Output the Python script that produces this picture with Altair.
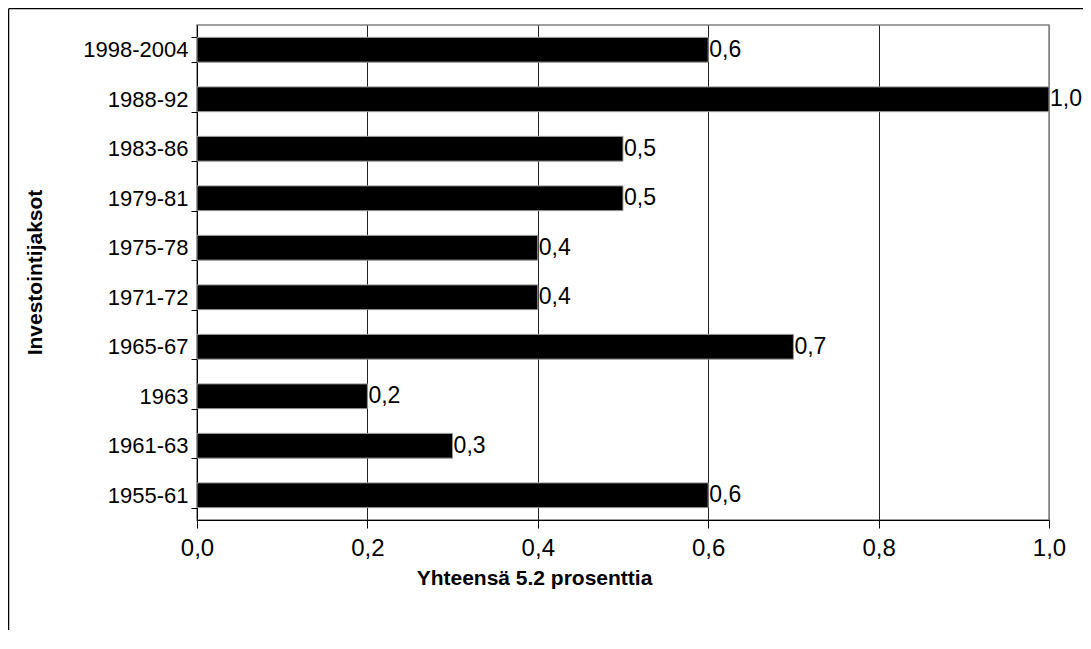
import altair as alt
import pandas as pd

periods = ["1998-2004", "1988-92", "1983-86", "1979-81", "1975-78",
           "1971-72", "1965-67", "1963", "1961-63", "1955-61"]
values = [0.6, 1.0, 0.5, 0.5, 0.4, 0.4, 0.7, 0.2, 0.3, 0.6]
x_ticks = [0.0, 0.2, 0.4, 0.6, 0.8, 1.0]

df = pd.DataFrame({"period": periods, "value": values})
frame_df = pd.DataFrame({"k": [0]})

FONT = "Liberation Sans"

y_enc = alt.Y("period:N", sort=periods,
              scale=alt.Scale(paddingInner=0.5, paddingOuter=0.25),
              axis=alt.Axis(title="Investointijaksot", titleFontSize=21,
                            titleFontWeight="bold", titleFont=FONT, titleColor="black",
                            titleX=-162, titleY=247, titleAngle=270,
                            titleAlign="center", titleBaseline="middle",
                            labelFont=FONT, labelFontSize=22, labelColor="black",
                            labelPadding=3, tickSize=6, tickColor="black",
                            tickBand="extent", domainColor="black", grid=False))

x_enc = alt.X("value:Q",
              scale=alt.Scale(domain=[0, 1], nice=False),
              axis=alt.Axis(title="Yhteensä 5.2 prosenttia", titleFontSize=21,
                            titleFontWeight="bold", titleFont=FONT, titleColor="black",
                            titleX=337, titleY=58, titleAlign="center",
                            titleBaseline="middle",
                            values=x_ticks,
                            labelExpr="replace(format(datum.value, '.1f'), '.', ',')",
                            labelFont=FONT, labelFontSize=24, labelColor="black",
                            labelFlush=False, labelBaseline="middle",
                            labelPadding=20, tickSize=8, tickColor="black",
                            domainColor="black",
                            grid=True,
                            gridColor={"condition": {"test": "datum.value >= 1", "value": "#808080"},
                                       "value": "#222222"},
                            gridWidth=1))

bars = alt.Chart(df).mark_bar(color="black", stroke="#9a9a9a", strokeWidth=1).encode(
    x=x_enc, y=y_enc)

labels = alt.Chart(df).transform_calculate(
    lab="replace(format(datum.value, '.1f'), '.', ',')"
).mark_text(align="left", baseline="middle", dx=1, font=FONT, fontSize=23,
            color="black").encode(
    x=alt.X("value:Q"), y=alt.Y("period:N", sort=periods), text="lab:N")

frame_left = alt.Chart(frame_df).mark_rule(color="black", strokeWidth=1.5).encode(
    x=alt.value(-188.5), y=alt.value(-16), y2=alt.value(700))
frame_top = alt.Chart(frame_df).mark_rule(color="black", strokeWidth=1.5).encode(
    x=alt.value(-188.5), x2=alt.value(900), y=alt.value(-16.5))

chart = alt.layer(bars, labels, frame_left, frame_top).properties(
    width=852, height=495,
    autosize=alt.AutoSizeParams(type="none"),
    padding={"left": 189, "top": 17, "right": 34, "bottom": 110},
).configure_view(stroke="#808080", strokeWidth=1.5)

chart.save("out.html", embed_options={"renderer": "svg", "actions": False})
